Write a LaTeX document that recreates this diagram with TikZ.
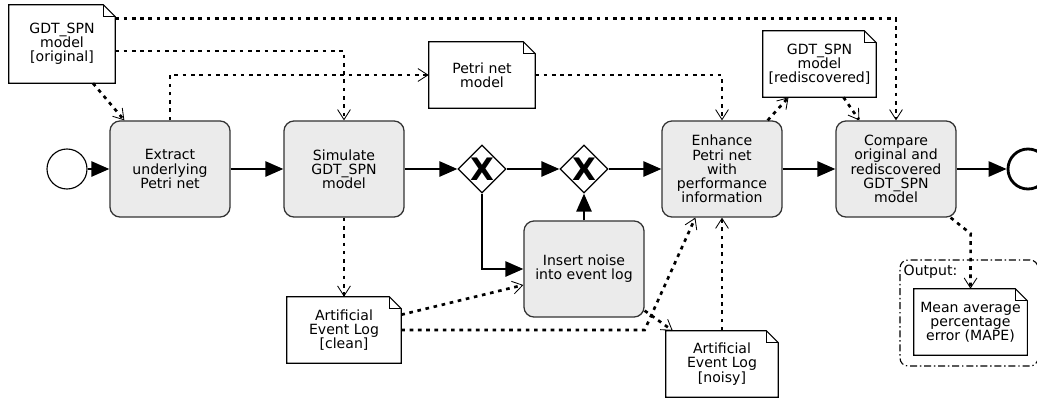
\documentclass[tikz,border=0pt]{standalone}
\usepackage{fontspec}
\setsansfont{DejaVu Sans}
\usetikzlibrary{shapes.geometric, arrows.meta, calc}

\begin{document}
\begin{tikzpicture}[x=0.025cm, y=-0.025cm, >=Latex, font=\sffamily\fontsize{10}{10.1}\selectfont,
        task/.style={draw=black!80, line width=0.9pt, fill=black!8, rounded corners=0.25cm,
            minimum width=3cm, minimum height=2.4cm, align=center, inner sep=1pt},
        gate/.style={diamond, draw, line width=0.9pt, fill=white, minimum size=1.2cm, inner sep=0pt,
            font=\sffamily\bfseries\fontsize{22}{22}\selectfont},
        dataobj/.style={minimum width=2.65cm, minimum height=1.65cm, align=center, inner sep=0pt},
        seq/.style={line width=1.5pt, -{Triangle[length=0.45cm, width=0.38cm]}},
        assoc/.style={line width=1.9pt, dash pattern=on 2.6pt off 3.3pt,
            -{Straight Barb[length=0.25cm, width=0.32cm, line width=0.6pt]}}]

            \useasboundingbox (0,0) rectangle (1037,401);

            % 1. Events
            \node[circle, draw, line width=0.8pt, minimum size=1cm] (start) at (67,169) {};
            \node[circle, draw, line width=2pt, minimum size=1cm] (end) at (1028,169) {};

            % 2. Tasks
            \node[task] (t1) at (170,169) {Extract\\underlying\\Petri net};
            \node[task] (t2) at (344,169) {Simulate\\GDT\_SPN\\model};
            \node[task] (t3) at (722,169) {Enhance\\Petri net\\with\\performance\\information};
            \node[task] (t4) at (896,169) {Compare\\original and\\rediscovered\\GDT\_SPN\\model};
            \node[task] (t5) at (584,269) {Insert noise\\into event log};

            % 3. Gateways
            \node[gate] (g1) at (482,169) {X};
            \node[gate] (g2) at (584,169) {X};

            % 4. Data objects (folded corner drawn below)
            \node[dataobj, minimum width=2.65cm, minimum height=1.95cm] (d1) at (62,44) {GDT\_SPN\\model\\{[original]}};
            \node[dataobj] (d2) at (482,75) {Petri net\\model};
            \node[dataobj, minimum width=2.825cm] (d3) at (819.5,64) {GDT\_SPN\\model\\{[rediscovered]}};
            \node[dataobj, minimum width=2.85cm] (d4) at (344,330) {Artificial\\Event Log\\{[clean]}};
            \node[dataobj, minimum width=2.8cm] (d5) at (722,364) {Artificial\\Event Log\\{[noisy]}};

            % Output group
            \node[draw, line width=0.8pt, dash pattern=on 5pt off 2pt on 1pt off 2pt, rounded corners=0.2cm,
                minimum width=3.45cm, minimum height=2.65cm] (outgrp) at (969,313) {};
            \node[anchor=west, inner sep=1pt] (outlbl) at (902,272) {Output:};
            \node[dataobj, minimum width=2.825cm] (d6) at (970.5,322) {Mean average\\percentage\\error (MAPE)};

            \foreach \d in {d1, d2, d3, d4, d5, d6} {
                \draw[line width=0.8pt] (\d.north west) -- ([xshift=-0.3cm]\d.north east)
                    -- ([yshift=-0.3cm]\d.north east) -- (\d.south east) -- (\d.south west) -- cycle;
                \draw[line width=0.5pt] ([xshift=-0.3cm]\d.north east) |- ([yshift=-0.3cm]\d.north east);
            }

            % 5. Sequence flow
            \draw[seq] (start) -- (t1);
            \draw[seq] (t1) -- (t2);
            \draw[seq] (t2) -- (g1);
            \draw[seq] (g1) -- (g2);
            \draw[seq] (g2) -- (t3);
            \draw[seq] (t3) -- (t4);
            \draw[seq] (t4) -- (end);
            \draw[seq] (g1.south) |- (t5.west);
            \draw[seq] (t5.north) -- (g2.south);

            % 6. Data associations
            \draw[assoc] ($(d1.south)+(31,0)$) -- ($(t1.north west)+(15,0)$);
            \draw[assoc] ($(d1.north east)+(0,14)$) -| (t4.north);
            \draw[assoc] ($(d1.east)+(0,7)$) -| (t2.north);
            \draw[assoc] (t1.north) |- (d2.west);
            \draw[assoc] (d2.east) -| (t3.north);
            \draw[assoc] ($(t3.north east)+(-15,0)$) -- ($(d3.south)+(-31,0)$);
            \draw[assoc] ($(d3.south)+(24,0)$) -- ($(t4.north west)+(24,0)$);
            \draw[assoc] (t2.south) -- (d4.north);
            \draw[assoc] ($(d4.north east)+(0,18)$) -- ($(t5.west)+(0,16)$);
            \draw[assoc] (d4.east) -- (d4.east -| t5.south east) -- ($(t3.south west)+(34,0)$);
            \draw[assoc] ($(t5.south east)+(0,-7)$) -- ($(d5.north west)+(7,0)$);
            \draw[assoc] (d5.north) -- (t3.south);
            \draw[assoc] ($(t4.south east)+(-6,0)$) -- ++(20,16) -- (d6.north);

\end{tikzpicture}
\end{document}
